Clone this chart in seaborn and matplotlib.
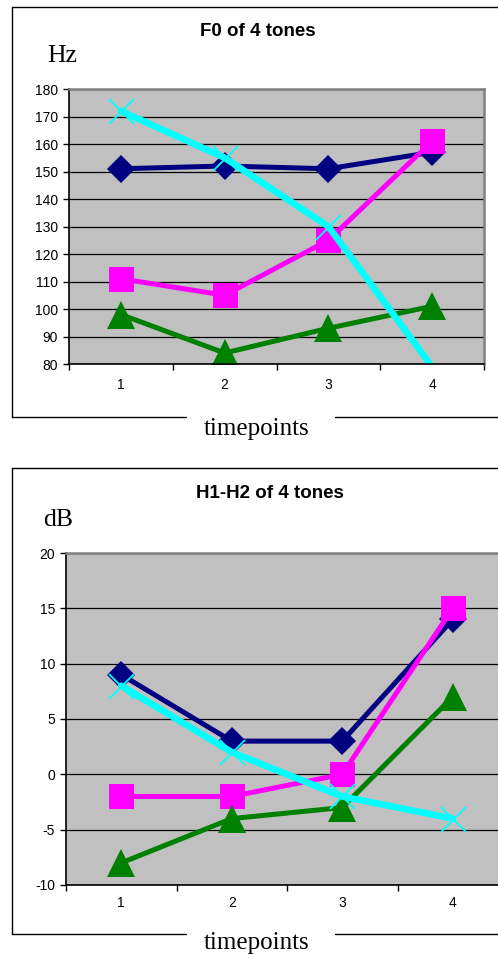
"""Recreate the two Excel-style tone charts (F0 and H1-H2)."""

import matplotlib.pyplot as plt
import seaborn as sns
from matplotlib.lines import Line2D
from matplotlib.ticker import FixedLocator, MultipleLocator

# data
timepoints = [1, 2, 3, 4]

f0_tone1 = [151, 152, 151, 157]
f0_tone2 = [111, 105, 125, 161]
f0_tone3 = [98, 84, 93, 101]
f0_tone4 = [172, 155, 130, 79]

h1h2_tone1 = [9, 3, 3, 14]
h1h2_tone2 = [-2, -2, 0, 15]
h1h2_tone3 = [-8, -4, -3, 7]
h1h2_tone4 = [8, 2, -2, -4]

sns.set_style("white", {"text.color": "black", "xtick.color": "black",
                        "ytick.color": "black", "axes.labelcolor": "black"})
plt.rcParams["font.family"] = ["Liberation Sans", "DejaVu Sans"]
plt.rcParams["axes.unicode_minus"] = False

W, H = 498, 958
fig = plt.figure(figsize=(W / 100, H / 100), dpi=100)

STYLES = [
    dict(color="#000080", marker="D", markersize=14, linewidth=3.6, mew=0),
    dict(color="#FF00FF", marker="s", markersize=18, linewidth=3.6, mew=0),
    dict(color="#008000", marker="^", markersize=20, linewidth=3.6, mew=0),
    dict(color="#00FFFF", marker="x", markersize=18, linewidth=4.8, mew=1.3),
]
SERIF = ["Liberation Serif", "DejaVu Serif"]


def fx(px):
    return px / W


def fy(py):
    return 1 - py / H


def draw_box(top, bottom, left=12, gap=(186, 335)):
    kw = dict(color="black", linewidth=1, transform=fig.transFigure)
    fig.add_artist(Line2D([fx(left), fx(left)], [fy(top), fy(bottom)], **kw))
    fig.add_artist(Line2D([fx(left), 1.01], [fy(top), fy(top)], **kw))
    fig.add_artist(Line2D([fx(left), fx(gap[0])], [fy(bottom), fy(bottom)], **kw))
    fig.add_artist(Line2D([fx(gap[1]), 1.01], [fy(bottom), fy(bottom)], **kw))


def draw_panel(rect, series, ylim, ystep, title, title_xy, unit, unit_xy, xlab_y, xpad, right_border):
    left, top, right, bottom = rect
    ax = fig.add_axes([fx(left), fy(bottom), fx(right - left), (bottom - top) / H])
    ax.set_facecolor("#C0C0C0")

    for values, st in zip(series, STYLES):
        # Excel leaves out markers for points outside the axis range
        shown = [i for i, v in enumerate(values) if ylim[0] <= v <= ylim[1]]
        sns.lineplot(
            x=timepoints, y=values, ax=ax, color=st["color"], marker=st["marker"],
            markersize=st["markersize"], linewidth=st["linewidth"],
            markeredgecolor=st["color"], markeredgewidth=st["mew"],
            markerfacecolor=st["color"], markevery=shown, clip_on=True,
        )

    ax.set_xlim(0.5, 4.5)
    ax.set_ylim(*ylim)
    ax.yaxis.set_major_locator(MultipleLocator(ystep))
    ax.set_xticks(timepoints)
    ax.xaxis.set_minor_locator(FixedLocator([0.5, 1.5, 2.5, 3.5, 4.5]))
    ax.grid(axis="y", color="black", linewidth=0.9)
    ax.set_axisbelow(True)

    ax.tick_params(axis="y", which="major", direction="out", length=4, width=1,
                   color="black", labelcolor="black", pad=4, labelsize=10, left=True)
    ax.tick_params(axis="x", which="major", length=0, pad=xpad, labelsize=10,
                   labelcolor="black")
    ax.tick_params(axis="x", which="minor", direction="out", length=4, width=1,
                   color="black", bottom=True)

    for side in ("left", "bottom"):
        ax.spines[side].set_color("black")
        ax.spines[side].set_linewidth(1.2)
    ax.spines["top"].set_color("#808080")
    ax.spines["top"].set_linewidth(1.8)
    ax.spines["right"].set_color("#808080")
    ax.spines["right"].set_linewidth(1.8)
    ax.spines["right"].set_visible(right_border)
    ax.set_xlabel("")
    ax.set_ylabel("")

    fig.text(fx(title_xy[0]), fy(title_xy[1]), title, ha="center", va="center",
             fontsize=13.5, fontweight="bold", color="black")
    fig.text(fx(unit_xy[0]), fy(unit_xy[1]), unit, ha="left", va="center",
             fontsize=18.5, family=SERIF, color="black")
    fig.text(fx(257), fy(xlab_y), "timepoints", ha="center", va="center",
             fontsize=18, family=SERIF, color="black")
    return ax


draw_box(7, 417)
draw_box(468, 934)

draw_panel((69, 89, 484, 364),
           [f0_tone1, f0_tone2, f0_tone3, f0_tone4],
           (80, 180), 10, "F0 of 4 tones", (258, 32), "Hz", (47, 56), 429, 10, True)

draw_panel((66, 553, 508, 885),
           [h1h2_tone1, h1h2_tone2, h1h2_tone3, h1h2_tone4],
           (-10, 20), 5, "H1-H2 of 4 tones", (270, 493), "dB", (43, 520), 943, 8, False)

fig.savefig("out.png", dpi=100)
plt.close(fig)
